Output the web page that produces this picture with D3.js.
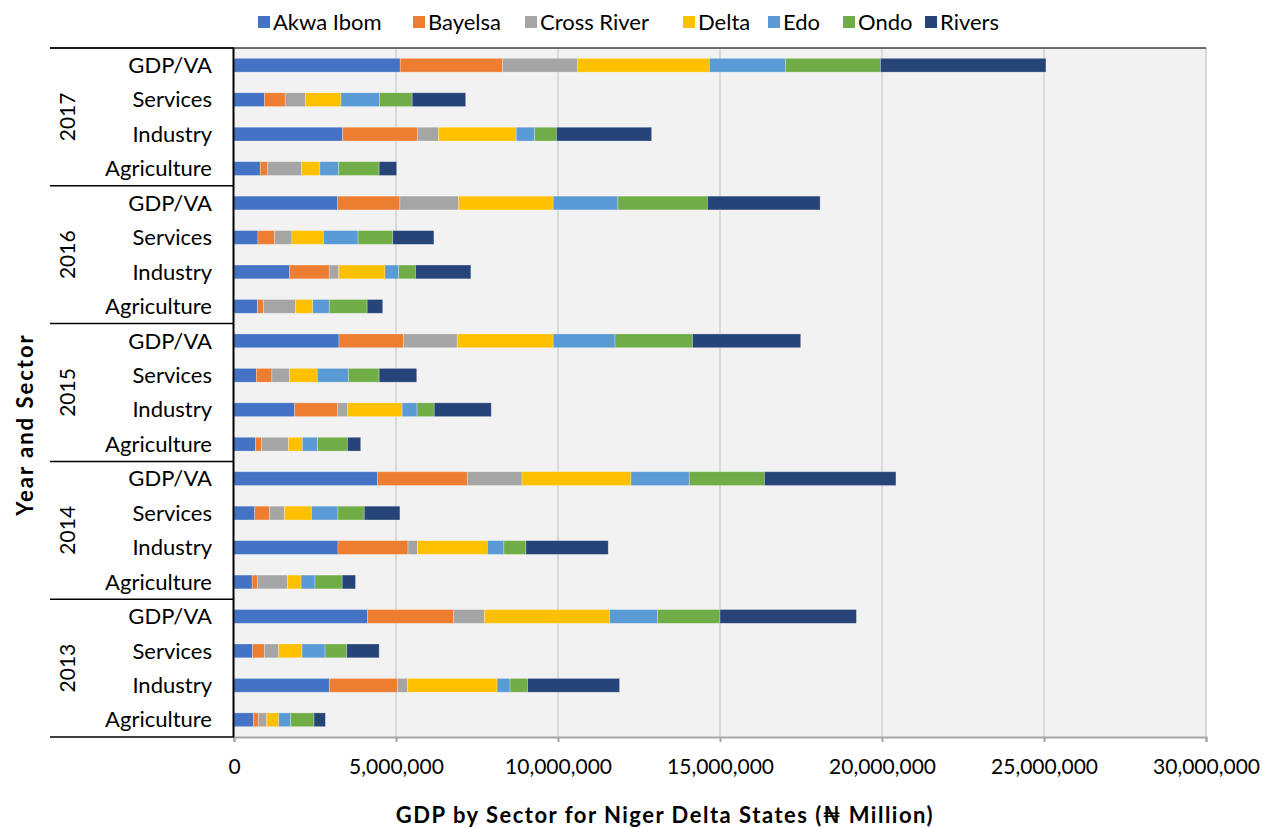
<!DOCTYPE html>
<html>
<head>
<meta charset="utf-8">
<script src="https://cdn.jsdelivr.net/npm/d3@7"></script>
<style>
  html, body { margin: 0; padding: 0; background: #ffffff; }
  svg { display: block; font-family: Lato, "Open Sans", sans-serif; }
</style>
</head>
<body>
<svg id="chart" width="1262" height="828"></svg>
<script>
// Years (top to bottom) and the sectors listed within each year
const years = ["2017", "2016", "2015", "2014", "2013"];
const sectors = ["GDP/VA", "Services", "Industry", "Agriculture"];
const states = ["Akwa Ibom", "Bayelsa", "Cross River", "Delta", "Edo", "Ondo", "Rivers"];
const stateColors = ["#4472C4", "#ED7D31", "#A5A5A5", "#FFC000", "#5B9BD5", "#70AD47", "#264478"];
const xTicks = [0, 5000000, 10000000, 15000000, 20000000, 25000000, 30000000];

// Values per state, row order: for each year GDP/VA, Services, Industry, Agriculture
const akwaIbom   = [5130000, 940000, 3350000, 810000, 3200000, 740000, 1710000, 720000, 3240000, 690000, 1870000, 660000, 4430000, 640000, 3210000, 560000, 4120000, 570000, 2940000, 600000];
const bayelsa    = [3160000, 640000, 2310000, 230000, 1920000, 510000, 1230000, 190000, 1990000, 480000, 1330000, 190000, 2780000, 460000, 2160000, 170000, 2650000, 370000, 2100000, 150000];
const crossRiver = [2320000, 620000, 650000, 1050000, 1810000, 540000, 290000, 990000, 1660000, 540000, 310000, 830000, 1680000, 460000, 290000, 920000, 960000, 440000, 310000, 260000];
const delta      = [4060000, 1100000, 2400000, 560000, 2920000, 970000, 1430000, 530000, 2960000, 860000, 1680000, 430000, 3360000, 830000, 2160000, 420000, 3860000, 720000, 2770000, 370000];
const edo        = [2350000, 1190000, 570000, 580000, 2000000, 1070000, 420000, 510000, 1910000, 960000, 460000, 470000, 1800000, 820000, 510000, 430000, 1480000, 710000, 400000, 370000];
const ondo       = [2930000, 1010000, 670000, 1250000, 2760000, 1070000, 520000, 1170000, 2390000, 950000, 530000, 920000, 2320000, 810000, 680000, 840000, 1930000, 670000, 540000, 720000];
const rivers     = [5110000, 1650000, 2940000, 540000, 3480000, 1270000, 1710000, 480000, 3340000, 1160000, 1760000, 410000, 4060000, 1100000, 2540000, 410000, 4210000, 1000000, 2840000, 350000];

const seriesValues = [akwaIbom, bayelsa, crossRiver, delta, edo, ondo, rivers];

// Flat table of rows: one per (year, sector)
const rows = [];
years.forEach((yr, yi) => sectors.forEach((sec, si) => {
  const idx = yi * sectors.length + si;
  const row = { key: yr + "|" + sec, year: yr, sector: sec };
  states.forEach((st, k) => { row[st] = seriesValues[k][idx]; });
  rows.push(row);
}));

const svg = d3.select("#chart");
const plot = { left: 234, right: 1206, top: 48, bottom: 737 };

const x = d3.scaleLinear().domain([0, 30000000]).range([plot.left, plot.right]);
const y = d3.scaleBand().domain(rows.map(d => d.key)).range([plot.top, plot.bottom])
  .paddingInner(0.6).paddingOuter(0.3);
const groupY = d3.scaleBand().domain(years).range([plot.top, plot.bottom]);
const color = d3.scaleOrdinal().domain(states).range(stateColors);

// Plot background
svg.append("rect")
  .attr("x", plot.left).attr("y", plot.top)
  .attr("width", plot.right - plot.left).attr("height", plot.bottom - plot.top)
  .attr("fill", "#f2f2f2");

// Vertical gridlines
svg.append("g").selectAll("line")
  .data(xTicks.filter(t => t > 0))
  .join("line")
  .attr("x1", d => x(d)).attr("x2", d => x(d))
  .attr("y1", plot.top).attr("y2", plot.bottom)
  .attr("stroke", "#d9d9d9").attr("stroke-width", 2);

// Stacked bars
const stack = d3.stack().keys(states);
const layers = stack(rows);
svg.append("g").selectAll("g")
  .data(layers)
  .join("g")
  .attr("fill", d => color(d.key))
  .selectAll("rect")
  .data(d => d)
  .join("rect")
  .attr("x", d => x(d[0]))
  .attr("width", d => x(d[1]) - x(d[0]))
  .attr("y", d => y(d.data.key))
  .attr("height", y.bandwidth())
  .attr("stroke", "rgba(255,255,255,0.35)")
  .attr("stroke-width", 0.75);

// Bottom value axis
const xAxis = d3.axisBottom(x).tickValues(xTicks).tickSize(5).tickFormat(d3.format(","));
const gx = svg.append("g").attr("transform", `translate(0,${plot.bottom})`).call(xAxis);
gx.select(".domain").attr("stroke", "#a6a6a6").attr("stroke-width", 2);
gx.selectAll(".tick line").attr("stroke", "#a6a6a6").attr("stroke-width", 2);
gx.selectAll(".tick text").attr("font-size", 21).attr("fill", "#000").attr("dy", "1.4em")
  .attr("font-family", "Lato, sans-serif");

// Top border of the plot area
svg.append("line")
  .attr("x1", 50).attr("x2", plot.right)
  .attr("y1", plot.top).attr("y2", plot.top)
  .attr("stroke", "#404040").attr("stroke-width", 1.5);

// Multi-level category axis: sector labels
svg.append("g").selectAll("text")
  .data(rows)
  .join("text")
  .attr("x", 212)
  .attr("y", d => y(d.key) + y.bandwidth() / 2)
  .attr("dy", "0.35em")
  .attr("text-anchor", "end")
  .attr("font-size", 22)
  .text(d => d.sector);

// Year group separators and labels
svg.append("g").selectAll("line")
  .data(years.concat(["end"]))
  .join("line")
  .attr("x1", 50).attr("x2", plot.left)
  .attr("y1", d => d === "end" ? plot.bottom : groupY(d))
  .attr("y2", d => d === "end" ? plot.bottom : groupY(d))
  .attr("stroke", "#000").attr("stroke-width", 1.5);

svg.append("g").selectAll("text")
  .data(years)
  .join("text")
  .attr("transform", d => `translate(68,${groupY(d) + groupY.bandwidth() / 2}) rotate(-90)`)
  .attr("text-anchor", "middle")
  .attr("dy", "0.35em")
  .attr("font-size", 21)
  .text(d => d);

// Left category axis line
svg.append("line")
  .attr("x1", plot.left - 0.5).attr("x2", plot.left - 0.5)
  .attr("y1", plot.top).attr("y2", plot.bottom)
  .attr("stroke", "#000").attr("stroke-width", 2);

// Axis titles
svg.append("text")
  .attr("x", 665).attr("y", 823)
  .attr("text-anchor", "middle")
  .attr("font-size", 22).attr("font-weight", "bold")
  .attr("letter-spacing", 1.5)
  .text("GDP by Sector for Niger Delta States (\u20A6 Million)");

svg.append("text")
  .attr("transform", `translate(25,${(plot.top + plot.bottom) / 2 + 32}) rotate(-90)`)
  .attr("text-anchor", "middle")
  .attr("dy", "0.35em")
  .attr("font-size", 22).attr("font-weight", "bold")
  .attr("letter-spacing", 2)
  .text("Year and Sector");

// Legend
const legendX = [258, 413, 525, 683, 768, 843, 925];
const legend = svg.append("g").selectAll("g")
  .data(states)
  .join("g")
  .attr("transform", (d, i) => `translate(${legendX[i]},22)`);
legend.append("rect")
  .attr("x", 0).attr("y", -6).attr("width", 12).attr("height", 12)
  .attr("fill", d => color(d));
legend.append("text")
  .attr("x", 15).attr("dy", "0.35em")
  .attr("font-size", 22)
  .text(d => d);
</script>
</body>
</html>
